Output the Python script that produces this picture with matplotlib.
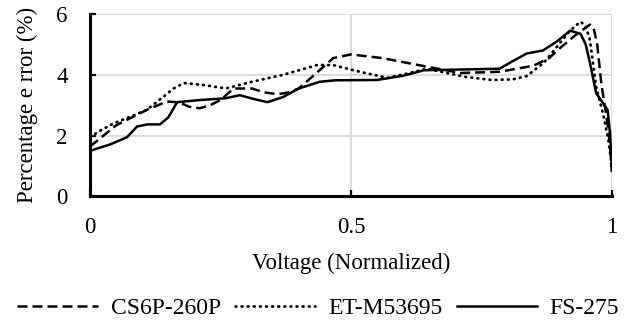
import numpy as np
import matplotlib.pyplot as plt

plt.rcParams['font.family'] = ['Liberation Serif', 'DejaVu Serif']

# CS6P-260P (dashed)
cs_x = [0.0, 0.01, 0.05, 0.108, 0.147, 0.17, 0.19, 0.21, 0.23, 0.25, 0.275, 0.31, 0.335, 0.36, 0.38,
        0.40, 0.43, 0.466, 0.5, 0.56, 0.645, 0.71, 0.785, 0.85, 0.88, 0.9, 0.93, 0.958,
        0.965, 0.972, 0.98, 0.99, 0.996, 1.0]
cs_y = [1.65, 1.78, 2.34, 2.84, 3.12, 3.1, 2.95, 2.9, 3.0, 3.17, 3.55, 3.55, 3.42, 3.36, 3.42,
        3.55, 4.0, 4.55, 4.67, 4.55, 4.27, 4.06, 4.1, 4.3, 4.55, 4.87, 5.3, 5.65,
        5.55, 5.0, 3.7, 2.6, 1.8, 0.8]

# ET-M53695 (dotted)
et_x = [0.0, 0.02, 0.045, 0.108, 0.14, 0.16, 0.18, 0.22, 0.26, 0.31, 0.37, 0.435, 0.466,
        0.517, 0.57, 0.61, 0.645, 0.72, 0.77, 0.81, 0.837, 0.87, 0.895, 0.92, 0.94,
        0.95, 0.958, 0.97, 0.983, 0.993, 1.0]
et_y = [1.95, 2.17, 2.4, 2.84, 3.27, 3.55, 3.73, 3.66, 3.55, 3.77, 4.0, 4.32, 4.32,
        4.1, 3.9, 4.05, 4.2, 3.93, 3.83, 3.85, 3.96, 4.4, 4.93, 5.45, 5.75,
        5.6, 5.15, 3.6, 2.73, 1.9, 1.0]

# FS-275 (solid)
fs_x = [0.0, 0.04, 0.071, 0.09, 0.11, 0.134, 0.15, 0.167, 0.21, 0.26, 0.287, 0.315, 0.34, 0.37,
        0.40, 0.44, 0.47, 0.55, 0.6, 0.64, 0.785, 0.81, 0.837, 0.868, 0.895, 0.92, 0.94,
        0.95, 0.958, 0.97, 0.982, 0.992, 0.997, 1.0]
fs_y = [1.5, 1.72, 1.95, 2.3, 2.37, 2.37, 2.6, 3.1, 3.17, 3.23, 3.33, 3.2, 3.1, 3.27,
        3.55, 3.77, 3.82, 3.83, 3.97, 4.15, 4.2, 4.45, 4.7, 4.8, 5.1, 5.45, 5.35,
        5.0, 4.4, 3.4, 3.1, 2.84, 2.0, 1.0]

fig = plt.figure(figsize=(6.34, 3.33), dpi=100)
ax = fig.add_axes([0.142, 0.410, 0.823, 0.548])

ax.plot(cs_x, cs_y, color='black', lw=1.8, dashes=(4, 2), label='CS6P-260P')
ax.plot(et_x, et_y, color='black', lw=2.0, dashes=(0.3, 1.9), dash_capstyle='round', label='ET-M53695')
ax.plot(fs_x, fs_y, color='black', lw=1.8, label='FS-275')

ax.set_xlim(0, 1)
ax.set_ylim(0, 6)
ax.set_xticks([0, 0.5, 1])
ax.set_xticklabels(['0', '0.5', '1'])
ax.set_yticks([0, 2, 4, 6])
ax.grid(True, color='#d9d9d9', lw=1.3)
ax.set_axisbelow(True)
for s in ['top', 'right']:
    ax.spines[s].set_visible(False)
for s in ['left', 'bottom']:
    ax.spines[s].set_linewidth(2.2)
ax.tick_params(direction='in', length=4.5, width=1.6, labelsize=16.5)
ax.tick_params(axis='x', pad=15)
ax.tick_params(axis='y', pad=16)
ax.set_xlabel('Voltage (Normalized)', fontsize=16.5)
ax.xaxis.label.set_va('center')
ax.xaxis.set_label_coords(0.5, -0.368)
ax.set_ylabel('Percentage e rror (%)', fontsize=16.5)
ax.yaxis.label.set_va('center')
ax.yaxis.set_label_coords(-0.12, 0.5)

fig.legend(*ax.get_legend_handles_labels(), loc='center', bbox_to_anchor=(0.502, 0.075),
           ncol=3, frameon=False, fontsize=17, handlelength=3.4, columnspacing=0.6,
           handletextpad=0.55, borderaxespad=0, borderpad=0)

fig.savefig('out.png', dpi=100)
